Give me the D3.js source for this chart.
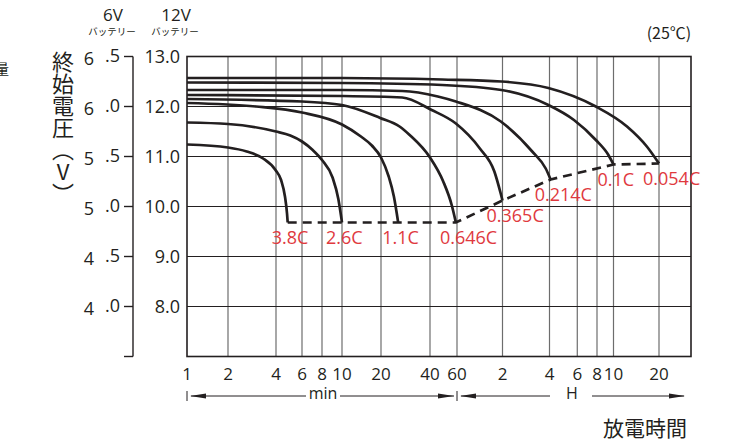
<!DOCTYPE html>
<html>
<head>
<meta charset="utf-8">
<script src="https://cdn.jsdelivr.net/npm/d3@7"></script>
<style>
  body { margin: 0; background: #fff; }
  svg { display: block; }
  text { font-family: "Open Sans", "Noto Sans", sans-serif; fill: #231f20; }
  .jp { font-family: "Noto Sans CJK JP", sans-serif; }
</style>
</head>
<body>
<div id="chart"></div>
<script>
// discharge time ticks (minutes) and what is printed under them
const tickMinutes = [1, 2, 4, 6, 8, 10, 20, 40, 60, 120, 240, 360, 480, 600, 1200];
const tickLabels = ["1", "2", "4", "6", "8", "10", "20", "40", "60", "2", "4", "6", "8", "10", "20"];

// voltage ticks, 12V battery and 6V battery
const volt12Ticks = [13, 12, 11, 10, 9, 8];
const volt6Ticks = [6.5, 6.0, 5.5, 5.0, 4.5, 4.0];

// discharge rates and curves: [minutes, volts]
const rates = ["3.8C", "2.6C", "1.1C", "0.646C", "0.365C", "0.214C", "0.1C", "0.054C"];
const c38 = [[1, 11.24], [2, 11.18], [2.62, 11.1], [3.32, 10.96], [3.97, 10.73], [4.33, 10.53], [4.6, 10.2], [4.75, 9.86], [4.8, 9.68]];
const c26 = [[1, 11.68], [2, 11.65], [4, 11.5], [5, 11.42], [6, 11.3], [7, 11.13], [8, 10.93], [9, 10.58], [9.6, 10.15], [10, 9.68]];
const c11 = [[1, 12.07], [3, 12.0], [6, 11.88], [10, 11.64], [14, 11.4], [17, 11.22], [20, 10.98], [22.3, 10.6], [24, 10.2], [25.5, 9.68]];
const c0646 = [[1, 12.15], [6, 12.1], [10, 12.03], [19.7, 11.77], [26, 11.6], [30, 11.43], [40, 10.98], [48.8, 10.5], [55.4, 10.03], [59, 9.68]];
const c0365 = [[1, 12.23], [10, 12.21], [27, 12.18], [41, 11.93], [59, 11.66], [85, 11.16], [106, 10.7], [117, 10.25], [120, 10.12]];
const c0214 = [[1, 12.33], [10, 12.33], [27, 12.31], [45, 12.2], [59, 12.1], [117, 11.7], [186, 11.1], [227, 10.76], [244, 10.54]];
const c01 = [[1, 12.48], [10, 12.47], [48, 12.43], [118, 12.33], [236, 12.03], [343, 11.73], [472, 11.33], [560, 11.03], [600, 10.84]];
const c0054 = [[1, 12.57], [10, 12.57], [48, 12.54], [118, 12.5], [236, 12.37], [472, 12.0], [737, 11.6], [997, 11.2], [1200, 10.86]];
const curves = [c38, c26, c11, c0646, c0365, c0214, c01, c0054];

const W = 755, H = 441;

const svg = d3.select("#chart").append("svg")
  .attr("width", W)
  .attr("height", H);

// the printed grid is not a clean log axis, so the log scale is pieced together
const x = d3.scaleLog()
  .domain([1, 2, 4, 6, 8, 10, 20, 40, 60, 120, 240, 480, 600, 1200, 2000])
  .range([187, 228, 276, 302, 322, 342, 381, 430, 457, 502.5, 549.5, 597, 613.5, 659, 691]);
const y = d3.scaleLinear().domain([7, 13]).range([356.5, 56.5]);
const y6 = d3.scaleLinear().domain([3.5, 6.5]).range([356.5, 56.5]);

const x0 = x.range()[0], x1 = x.range()[x.range().length - 1];

// grid
svg.append("g").selectAll("line")
  .data(tickMinutes.slice(1))
  .enter().append("line")
  .attr("x1", d => x(d)).attr("x2", d => x(d))
  .attr("y1", y(13)).attr("y2", y(7))
  .attr("stroke", "#6d6d6d").attr("stroke-width", 1.2);

svg.append("g").selectAll("line")
  .data(volt12Ticks.slice(1))
  .enter().append("line")
  .attr("x1", x0).attr("x2", x1)
  .attr("y1", d => y(d)).attr("y2", d => y(d))
  .attr("stroke", "#231f20").attr("stroke-width", 1.2);

svg.append("rect")
  .attr("x", x0).attr("y", y(13))
  .attr("width", x1 - x0).attr("height", y(7) - y(13))
  .attr("fill", "none").attr("stroke", "#231f20").attr("stroke-width", 1.6);

// 12V labels
svg.append("g").selectAll("text")
  .data(volt12Ticks)
  .enter().append("text")
  .attr("x", 180).attr("y", d => y(d))
  .attr("dy", "0.36em")
  .attr("text-anchor", "end")
  .attr("font-size", 18)
  .text(d => d.toFixed(1));

// 6V axis
const ax6 = svg.append("g");
ax6.append("line")
  .attr("x1", 133).attr("x2", 133)
  .attr("y1", y6(6.5)).attr("y2", y6(3.5))
  .attr("stroke", "#231f20").attr("stroke-width", 1.4);
ax6.selectAll(".tk")
  .data(volt6Ticks.concat([3.5]))
  .enter().append("line")
  .attr("x1", 124).attr("x2", 133)
  .attr("y1", d => y6(d)).attr("y2", d => y6(d))
  .attr("stroke", "#231f20").attr("stroke-width", 1.4);
ax6.selectAll(".dec")
  .data(volt6Ticks)
  .enter().append("text")
  .attr("x", 120).attr("y", d => y6(d))
  .attr("dy", "0.3em")
  .attr("text-anchor", "end")
  .attr("font-size", 18)
  .text(d => "." + Math.round((d % 1) * 10));
ax6.selectAll(".int")
  .data(volt6Ticks)
  .enter().append("text")
  .attr("x", 89).attr("y", d => y6(d) + 2.5)
  .attr("dy", "0.36em")
  .attr("text-anchor", "middle")
  .attr("font-size", 18)
  .text(d => Math.floor(d));

// battery headers
svg.append("text").attr("x", 113).attr("y", 21).attr("text-anchor", "middle")
  .attr("font-size", 17).text("6V");
svg.append("text").attr("x", 176).attr("y", 21).attr("text-anchor", "middle")
  .attr("font-size", 17).text("12V");
svg.append("text").attr("class", "jp").attr("x", 112).attr("y", 35).attr("text-anchor", "middle")
  .attr("font-size", 9.5).text("バッテリー");
svg.append("text").attr("class", "jp").attr("x", 175).attr("y", 35).attr("text-anchor", "middle")
  .attr("font-size", 9.5).text("バッテリー");

// y title, vertical
svg.append("text").attr("class", "jp")
  .attr("x", 63).attr("y", 51)
  .attr("font-size", 22)
  .style("writing-mode", "vertical-rl")
  .style("text-orientation", "upright")
  .text("終始電圧（V）");

svg.append("text").attr("class", "jp")
  .attr("x", -5).attr("y", 74)
  .attr("font-size", 14)
  .text("量");

svg.append("text").attr("class", "jp")
  .attr("x", 669).attr("y", 39).attr("text-anchor", "middle")
  .attr("font-size", 16).text("(25℃)");

// x tick labels
svg.append("g").selectAll("text")
  .data(tickMinutes)
  .enter().append("text")
  .attr("x", d => x(d)).attr("y", 380)
  .attr("text-anchor", "middle")
  .attr("font-size", 17)
  .text((d, i) => tickLabels[i]);

// min / H arrows
const arrowY = 396;
const arr = svg.append("g").attr("stroke", "#231f20").attr("stroke-width", 1);
arr.append("line").attr("x1", x(1)).attr("x2", x(1)).attr("y1", arrowY - 5).attr("y2", arrowY + 5);
arr.append("line").attr("x1", x(60)).attr("x2", x(60)).attr("y1", arrowY - 5).attr("y2", arrowY + 5);
const segs = [[x(1) + 4, 306], [340, x(60) - 3], [x(60) + 4, 550], [592, 684]];
arr.selectAll(".seg").data(segs).enter().append("line")
  .attr("x1", d => d[0]).attr("x2", d => d[1])
  .attr("y1", arrowY).attr("y2", arrowY);
const heads = [[x(1) + 3, 1], [x(60) - 3, -1], [x(60) + 3, 1], [685, -1]];
svg.append("g").selectAll("path").data(heads).enter().append("path")
  .attr("d", d => `M${d[0]},${arrowY} l${d[1] * 16},-2.5 l0,5 z`)
  .attr("fill", "#231f20");
svg.append("text").attr("x", 323).attr("y", arrowY + 3).attr("text-anchor", "middle")
  .attr("font-size", 16).text("min");
svg.append("text").attr("x", 572).attr("y", arrowY + 3).attr("text-anchor", "middle")
  .attr("font-size", 16).text("H");

svg.append("text").attr("class", "jp")
  .attr("x", 645).attr("y", 436).attr("text-anchor", "middle")
  .attr("font-size", 21).text("放電時間");

// discharge curves
const line = d3.line()
  .x(d => x(d[0]))
  .y(d => y(d[1]))
  .curve(d3.curveMonotoneX);

svg.append("g").selectAll("path")
  .data(curves)
  .enter().append("path")
  .attr("d", line)
  .attr("fill", "none")
  .attr("stroke", "#231f20")
  .attr("stroke-width", 2.7);

// end voltage, dashed
const ends = curves.map(c => c[c.length - 1]);
svg.append("path")
  .datum(ends)
  .attr("d", d3.line().x(d => x(d[0])).y(d => y(d[1])))
  .attr("fill", "none")
  .attr("stroke", "#231f20")
  .attr("stroke-width", 2.7)
  .attr("stroke-dasharray", "9,6");

svg.append("g").selectAll("text")
  .data(ends)
  .enter().append("text")
  .attr("x", d => x(d[0]) - 16)
  .attr("y", d => y(d[1]) + 21)
  .attr("font-size", 18)
  .style("fill", "#e0393e")
  .text((d, i) => rates[i]);
</script>
</body>
</html>
